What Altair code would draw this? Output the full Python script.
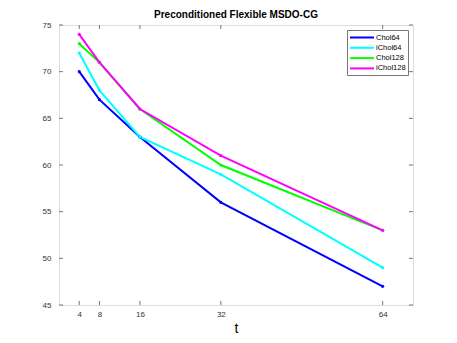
import altair as alt
import pandas as pd

t_vals = [4, 8, 16, 32, 64]
series_names = ["Chol64", "iChol64", "Chol128", "iChol128"]
chol64 = [70, 67, 63, 56, 47]
ichol64 = [72, 68, 63, 59, 49]
chol128 = [73, 71, 66, 60, 53]
ichol128 = [74, 71, 66, 61, 53]
colors = ["#0000ff", "#00ffff", "#00ff00", "#ff00ff"]
y_ticks = [45, 50, 55, 60, 65, 70, 75]

rows = []
for name, vals in zip(series_names, [chol64, ichol64, chol128, ichol128]):
    for t, v in zip(t_vals, vals):
        rows.append({"t": t, "value": v, "series": name})
df = pd.DataFrame(rows)
xt = pd.DataFrame({"t": t_vals})
yt = pd.DataFrame({"v": y_ticks})

W, H = 354, 280
FONT = "Liberation Sans"
FRAME = "#777777"

xs = alt.Scale(domain=[0, 70], nice=False, zero=False)
ys = alt.Scale(domain=[45, 75], nice=False, zero=False)

lines = alt.Chart(df).mark_line(strokeWidth=2, point=alt.OverlayMarkDef(size=10, filled=True)).encode(
    x=alt.X("t:Q", scale=xs, axis=alt.Axis(values=t_vals, ticks=False, domain=False, grid=False,
                                             labelFont=FONT, labelFontSize=8, labelColor="#333",
                                             labelPadding=5, title="t", titleFont=FONT,
                                             titleFontSize=14, titleFontWeight="normal",
                                             titlePadding=3, titleColor="#000")),
    y=alt.Y("value:Q", scale=ys, axis=alt.Axis(values=y_ticks, ticks=False, domain=False, grid=False,
                                                 labelFont=FONT, labelFontSize=8, labelColor="#333",
                                                 labelPadding=8, title=None)),
    color=alt.Color("series:N", scale=alt.Scale(domain=series_names, range=colors),
                    legend=alt.Legend(title=None, orient="top-right", offset=5,
                                      symbolType="M-1,0H4.33", symbolStrokeWidth=2, symbolSize=81,
                                      labelFont=FONT, labelFontSize=7.5, labelColor="#000",
                                      fillColor="white", strokeColor=FRAME, padding=2,
                                      rowPadding=0.3, labelOffset=16)),
    order="t:Q",
)

xb = alt.Chart(xt).mark_rule(color=FRAME, strokeWidth=1).encode(
    x=alt.X("t:Q", scale=xs), y=alt.value(H), y2=alt.value(H - 4))
xtop = alt.Chart(xt).mark_rule(color=FRAME, strokeWidth=1).encode(
    x=alt.X("t:Q", scale=xs), y=alt.value(0), y2=alt.value(4))
yl = alt.Chart(yt).mark_rule(color=FRAME, strokeWidth=1).encode(
    y=alt.Y("v:Q", scale=ys), x=alt.value(0), x2=alt.value(4))
yr = alt.Chart(yt).mark_rule(color=FRAME, strokeWidth=1).encode(
    y=alt.Y("v:Q", scale=ys), x=alt.value(W - 4), x2=alt.value(W))

chart = alt.layer(xb, xtop, yl, yr, lines).properties(
    width=W, height=H,
    title=alt.TitleParams("Preconditioned Flexible MSDO-CG", font=FONT, fontSize=10,
                          fontWeight="bold", anchor="middle", offset=1, color="#000"),
    padding={"left": 51, "top": 17, "right": 20, "bottom": 30},
    autosize=alt.AutoSizeParams(type="none"),
).configure_view(stroke=FRAME, strokeWidth=1).configure(background="white")

chart.save("out.html", embed_options={"renderer": "svg", "actions": False})
